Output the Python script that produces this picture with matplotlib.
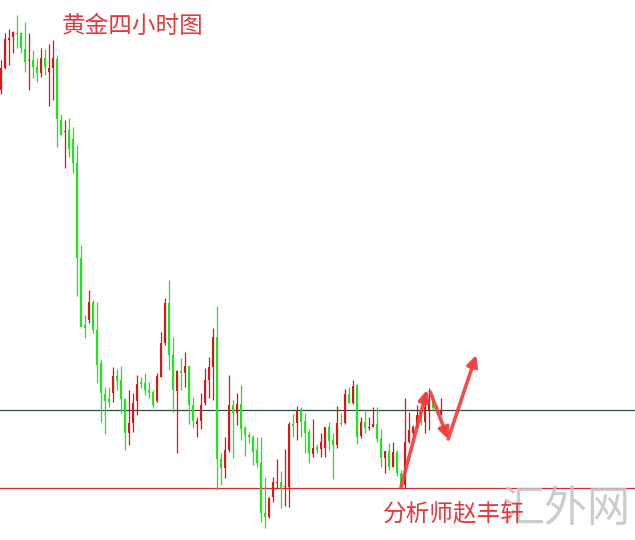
import matplotlib.pyplot as plt

plt.rcParams['font.family'] = ['Noto Sans CJK SC', 'DejaVu Sans']

# candles, in screen rows (smaller = higher price)
open_ = [90, 68, 40, 37, 33, 33, 49, 61, 60, 67, 73, 58, 72, 68, 59, 120, 132, 130, 139, 163,
         258, 325, 320, 302, 330, 363, 394, 399, 393, 376, 380, 399, 433, 423, 401, 382, 383, 390, 392, 401,
         377, 343, 303, 355, 391, 371, 373, 366, 405, 424, 421, 403, 380, 367, 337, 459, 468, 450, 405, 413,
         404, 428, 435, 437, 450, 463, 513, 517, 497, 483, 482, 487, 487, 424, 423, 409, 421, 432, 454, 447,
         449, 448, 427, 440, 445, 423, 423, 394, 403, 385, 436, 422, 428, 427, 424, 439, 458, 451, 467, 452,
         473, 485, 442, 433, 427, 415, 422, 410, 399, 407, 414]
close = [68, 39, 38, 32, 34, 48, 62, 60, 67, 73, 58, 67, 68, 58, 119, 135, 131, 149, 163, 258,
         327, 328, 302, 330, 365, 393, 401, 402, 376, 381, 399, 433, 423, 403, 384, 384, 390, 393, 405, 376,
         343, 303, 355, 390, 371, 373, 366, 405, 421, 421, 405, 380, 367, 337, 459, 468, 450, 405, 413, 404,
         429, 435, 437, 452, 463, 513, 517, 498, 482, 482, 488, 486, 424, 426, 411, 422, 433, 453, 448, 450,
         442, 427, 441, 445, 423, 424, 394, 403, 386, 437, 422, 428, 427, 424, 439, 458, 451, 467, 452, 473,
         485, 442, 430, 427, 415, 423, 407, 400, 408, 412, 410]
high = [60, 33, 29, 31, 15, 32, 22, 33, 50, 58, 48, 49, 44, 40, 55, 114, 120, 118, 127, 145,
        245, 315, 290, 300, 302, 360, 387, 387, 367, 369, 366, 398, 390, 393, 375, 377, 373, 382, 390, 373,
        332, 298, 280, 337, 370, 358, 352, 366, 397, 417, 393, 368, 357, 328, 306, 453, 437, 375, 400, 393,
        385, 426, 432, 435, 437, 437, 477, 497, 477, 459, 471, 449, 422, 414, 406, 407, 413, 429, 419, 444,
        433, 427, 422, 433, 406, 413, 389, 387, 380, 384, 417, 409, 417, 407, 407, 429, 451, 443, 442, 450,
        470, 398, 412, 425, 405, 408, 395, 388, 395, 405, 398]
low = [94, 69, 65, 53, 48, 53, 72, 90, 78, 82, 77, 75, 106, 100, 147, 135, 168, 157, 173, 296,
       327, 338, 323, 333, 383, 422, 434, 407, 402, 390, 413, 450, 445, 432, 415, 388, 395, 398, 407, 402,
       377, 345, 370, 412, 453, 390, 387, 424, 428, 437, 429, 405, 398, 400, 490, 485, 478, 452, 458, 425,
       440, 456, 443, 465, 467, 522, 528, 518, 502, 488, 508, 506, 507, 437, 440, 437, 453, 463, 457, 453,
       457, 457, 450, 479, 448, 426, 424, 403, 404, 444, 438, 433, 430, 427, 442, 467, 473, 470, 467, 476,
       487, 488, 443, 437, 428, 425, 433, 430, 410, 413, 415]

resistance = 410
support = 488

# hand drawn forecast path (candle index, screen row)
path_x = [100.0, 106.5, 107.3, 111.8, 111.8, 118.8]
path_y = [487, 390, 392, 439, 439, 355]

fig = plt.figure(figsize=(6.35, 5.4), dpi=100)
ax = fig.add_axes([0, 0, 1, 1])
ax.set_xlim(-0.25, 158.5)
ax.set_ylim(540, 0)
ax.axis('off')

ax.axhline(resistance, color='#2d4a3c', lw=0.9, zorder=1)
ax.axhline(support, color='#d42a2a', lw=0.9, zorder=1)

up_col = '#e01414'
dn_col = '#1ee61e'
for i in range(len(open_)):
    col = up_col if close[i] < open_[i] else dn_col
    ax.vlines(i, high[i], low[i], color=col, lw=0.9, zorder=2)
    top = min(open_[i], close[i])
    h = max(abs(open_[i] - close[i]), 1.2)
    ax.bar(i, h, bottom=top, width=0.72, color=col, lw=0, zorder=3)

for k in range(0, len(path_x), 2):
    ax.annotate('', xy=(path_x[k + 1], path_y[k + 1]), xytext=(path_x[k], path_y[k]),
                arrowprops=dict(arrowstyle='-|>', lw=2.6, color='#f03c3c',
                                mutation_scale=16, shrinkA=0, shrinkB=0, alpha=0.9),
                zorder=5)

fig.text(62 / 635, 1 - 26 / 540, '黄金四小时图', color='#e8383d', fontsize=17,
         va='center', ha='left')
fig.text(383 / 635, 1 - 514 / 540, '分析师赵丰轩', color='#e8383d', fontsize=17,
         va='center', ha='left', zorder=6)
fig.text(566 / 635, 1 - 510 / 540, '汇外网', color='#c4c4c4', fontsize=31,
         fontweight='light', va='center', ha='center', alpha=0.85)

fig.savefig('out.png', dpi=100)
